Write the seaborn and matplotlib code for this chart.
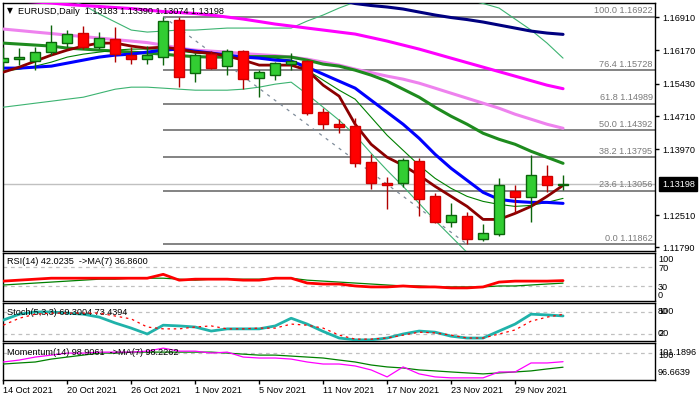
import matplotlib
matplotlib.use("Agg")
import matplotlib.pyplot as plt
import numpy as np
import pandas as pd
import seaborn as sns

# ---------------- data ----------------
dates = ["14 Oct", "15 Oct", "18 Oct", "19 Oct", "20 Oct", "21 Oct", "22 Oct", "25 Oct", "26 Oct",
         "27 Oct", "28 Oct", "29 Oct", "1 Nov", "2 Nov", "3 Nov", "4 Nov", "5 Nov", "8 Nov", "9 Nov",
         "10 Nov", "11 Nov", "12 Nov", "15 Nov", "16 Nov", "17 Nov", "18 Nov", "19 Nov", "22 Nov",
         "23 Nov", "24 Nov", "25 Nov", "26 Nov", "29 Nov", "30 Nov", "1 Dec", "2 Dec"]

opens = [1.15908, 1.15975, 1.15931, 1.16131, 1.16331, 1.16554, 1.16242, 1.16420, 1.16064, 1.15975,
         1.16020, 1.16843, 1.15663, 1.16086, 1.15819, 1.16153, 1.15552, 1.15619, 1.15864, 1.15931,
         1.14795, 1.14528, 1.14484, 1.13682, 1.13215, 1.13215, 1.13705, 1.12926, 1.12347, 1.12480,
         1.11968, 1.12080, 1.13037, 1.12903, 1.13371, 1.13183]
highs = [1.16242, 1.16220, 1.16242, 1.16732, 1.16621, 1.16710, 1.16576, 1.16687, 1.16242, 1.16264,
         1.16922, 1.16900, 1.16109, 1.16153, 1.16198, 1.16175, 1.15730, 1.15908, 1.16109, 1.15953,
         1.14884, 1.14639, 1.14662, 1.13860, 1.13348, 1.13771, 1.13771, 1.12992, 1.12770, 1.12569,
         1.12302, 1.13326, 1.13170, 1.13838, 1.13616, 1.13390]
lows = [1.15730, 1.15842, 1.15730, 1.16064, 1.16242, 1.16198, 1.16198, 1.15908, 1.15864, 1.15864,
        1.15842, 1.15352, 1.15463, 1.15752, 1.15619, 1.15307, 1.15129, 1.15508, 1.15730, 1.14729,
        1.14417, 1.14328, 1.13571, 1.13081, 1.12636, 1.13126, 1.12480, 1.12324, 1.12235, 1.11862,
        1.11924, 1.12035, 1.12547, 1.12347, 1.13015, 1.13074]
closes = [1.15997, 1.16020, 1.16131, 1.16354, 1.16532, 1.16242, 1.16443, 1.16086, 1.15975, 1.16064,
          1.16821, 1.15574, 1.16064, 1.15775, 1.16153, 1.15530, 1.15686, 1.15886, 1.15942, 1.14773,
          1.14528, 1.14461, 1.13660, 1.13215, 1.13170, 1.13727, 1.12859, 1.12347, 1.12503, 1.11968,
          1.12102, 1.13170, 1.12903, 1.13393, 1.13170, 1.13198]

ma_fast = [1.15686, 1.15797, 1.15931, 1.16064, 1.16175, 1.16265, 1.16331, 1.16331, 1.16265, 1.16220,
           1.16242, 1.16198, 1.16131, 1.16109, 1.16042, 1.15953, 1.15842, 1.15842, 1.15842, 1.15730,
           1.15396, 1.15152, 1.14528, 1.14083, 1.13794, 1.13616, 1.13393, 1.13148, 1.12926, 1.12703,
           1.12414, 1.12414, 1.12547, 1.12703, 1.12926, 1.13170]
ma_blue = [1.15775, 1.15775, 1.15797, 1.15819, 1.15886, 1.15953, 1.16020, 1.16064, 1.16086, 1.16131,
           1.16175, 1.16198, 1.16153, 1.16109, 1.16064, 1.16020, 1.15997, 1.15953, 1.15931, 1.15797,
           1.15641, 1.15485, 1.15330, 1.15062, 1.14795, 1.14528, 1.14217, 1.13860, 1.13549, 1.13282,
           1.13015, 1.12859, 1.12814, 1.12792, 1.12792, 1.12770]
ma_green = [1.16331, 1.16309, 1.16287, 1.16265, 1.16220, 1.16198, 1.16175, 1.16153, 1.16131, 1.16109,
            1.16086, 1.16053, 1.16031, 1.16020, 1.16020, 1.16031, 1.16031, 1.16031, 1.16020, 1.15953,
            1.15864, 1.15819, 1.15730, 1.15619, 1.15485, 1.15307, 1.15129, 1.14907, 1.14706, 1.14528,
            1.14328, 1.14194, 1.14083, 1.13927, 1.13794, 1.13660]
ma_thin = [1.15708, 1.15753, 1.15819, 1.15908, 1.16020, 1.16086, 1.16131, 1.16175, 1.16198, 1.16198,
           1.16198, 1.16153, 1.16109, 1.16086, 1.16064, 1.16042, 1.16020, 1.15997, 1.15953, 1.15730,
           1.15508, 1.15285, 1.15085, 1.14684, 1.14283, 1.13949, 1.13616, 1.13326, 1.13104, 1.12926,
           1.12814, 1.12747, 1.12703, 1.12725, 1.12792, 1.12881]
ma_violet = [1.16643, 1.16610, 1.16576, 1.16543, 1.16509, 1.16476, 1.16443, 1.16409, 1.16376, 1.16342,
             1.16287, 1.16220, 1.16175, 1.16153, 1.16131, 1.16098, 1.16075, 1.16053, 1.16020, 1.15975,
             1.15908, 1.15842, 1.15753, 1.15675, 1.15597, 1.15530, 1.15441, 1.15330, 1.15218, 1.15107,
             1.14996, 1.14884, 1.14751, 1.14640, 1.14528, 1.14439]
ma_magenta = [1.17288, 1.17266, 1.17244, 1.17222, 1.17188, 1.17166, 1.17144, 1.17121, 1.17099, 1.17066,
              1.17032, 1.17010, 1.16988, 1.16955, 1.16910, 1.16865, 1.16810, 1.16754, 1.16710, 1.16665,
              1.16621, 1.16576, 1.16532, 1.16454, 1.16376, 1.16287, 1.16198, 1.16098, 1.15997, 1.15897,
              1.15797, 1.15697, 1.15597, 1.15496, 1.15396, 1.15318]
ma_navy = [np.nan] * 20 + [1.17355, 1.17288, 1.17210, 1.17166, 1.17133, 1.17088, 1.17021, 1.16955,
                           1.16899, 1.16854, 1.16799, 1.16732, 1.16665, 1.16598, 1.16554, 1.16525]
bb_upper = [1.17734, 1.17622, 1.17511, 1.17400, 1.17288, 1.17177, 1.16977, 1.16799, 1.16621, 1.16576,
            1.16598, 1.16621, 1.16621, 1.16643, 1.16665, 1.16665, 1.16665, 1.16665, 1.16665, 1.16821,
            1.16955, 1.17110, 1.17244, 1.17355, 1.17423, 1.17467, 1.17467, 1.17423, 1.17378, 1.17288,
            1.17211, 1.17110, 1.16865, 1.16621, 1.16331, 1.15997]
bb_lower = [1.14907, 1.14951, 1.14996, 1.15040, 1.15085, 1.15129, 1.15218, 1.15307, 1.15352, 1.15352,
            1.15330, 1.15307, 1.15285, 1.15285, 1.15285, 1.15307, 1.15352, 1.15419, 1.15463, 1.15196,
            1.14907, 1.14617, 1.14283, 1.13883, 1.13504, 1.13148, 1.12770, 1.12391, 1.12035, 1.11679,
            1.11390, 1.11234, 1.11100, 1.11011, 1.10944, 1.10900]

rsi = [41, 43, 45, 47, 47, 47, 47, 47, 47, 47, 55, 43, 45, 45, 45, 43, 43, 47, 47, 37,
       35, 35, 31, 29, 29, 31, 29, 29, 27, 27, 29, 39, 41, 41, 41, 42.0235]
rsi_ma = [33, 35, 37, 39, 41, 43, 45, 45, 47, 47, 47, 45, 43, 45, 45, 45, 45, 47, 47, 43,
          41, 39, 37, 35, 33, 31, 31, 29, 29, 29, 29, 31, 31, 33, 35, 36.8600]
stoch_k = [58, 74, 80, 80, 77, 74, 66, 50, 36, 20, 44, 42, 39, 28, 34, 34, 34, 42, 63, 47,
           27, 9, 4, 4, 9, 20, 28, 25, 14, 9, 9, 28, 47, 74, 72, 69.3004]
stoch_d = [44, 63, 74, 77, 77, 77, 77, 69, 61, 39, 34, 34, 39, 42, 34, 34, 36, 36, 47, 44,
           36, 17, 6, 6, 9, 17, 25, 23, 17, 9, 9, 20, 31, 55, 66, 73.4394]
momentum = [98.87, 99.11, 99.48, 99.72, 99.97, 99.97, 100.09, 100.09, 100.09, 100.21, 100.58, 100.21,
            100.21, 99.97, 100.09, 99.48, 99.36, 99.36, 99.23, 98.87, 98.62, 98.62, 98.38, 97.89,
            97.03, 98.26, 97.40, 97.03, 96.91, 96.91, 96.91, 97.64, 97.64, 98.75, 98.75, 98.9061]
momentum_ma = [98.62, 98.75, 98.87, 99.23, 99.48, 99.72, 99.97, 99.97, 100.09, 100.09, 100.09, 100.09,
               100.09, 100.09, 99.97, 99.84, 99.72, 99.72, 99.60, 99.48, 99.36, 99.11, 98.87, 98.50,
               98.26, 98.13, 97.89, 97.77, 97.64, 97.52, 97.40, 97.52, 97.64, 97.77, 98.01, 98.2262]

fib_levels = ["100.0", "76.4", "61.8", "50.0", "38.2", "23.6", "0.0"]
fib_prices = [1.16922, 1.15728, 1.14989, 1.14392, 1.13795, 1.13056, 1.11862]
price_ticks = [1.16910, 1.16170, 1.15430, 1.14710, 1.13970, 1.12510, 1.11790]
date_tick_labels = ["14 Oct 2021", "20 Oct 2021", "26 Oct 2021", "1 Nov 2021", "5 Nov 2021",
                    "11 Nov 2021", "17 Nov 2021", "23 Nov 2021", "29 Nov 2021"]
rsi_levels = [70, 30]
stoch_levels = [80, 20]
momentum_levels = [100]
momentum_range = (96.6639, 101.1896)

# ---------------- style ----------------
sns.set_theme(style="white")
plt.rcParams["font.family"] = ["Liberation Sans", "DejaVu Sans"]
plt.rcParams["axes.edgecolor"] = "black"
FS = 6.6

idx = np.arange(len(dates))
df = pd.DataFrame({"idx": idx, "open": opens, "high": highs, "low": lows, "close": closes,
                   "ma_fast": ma_fast, "ma_blue": ma_blue, "ma_green": ma_green, "ma_thin": ma_thin,
                   "ma_violet": ma_violet, "ma_magenta": ma_magenta, "ma_navy": ma_navy,
                   "bb_upper": bb_upper, "bb_lower": bb_lower, "rsi": rsi, "rsi_ma": rsi_ma,
                   "stoch_k": stoch_k, "stoch_d": stoch_d, "mom": momentum, "mom_ma": momentum_ma})

W, H = 700, 400
fig = plt.figure(figsize=(7, 4), dpi=100, facecolor="white")


def box(x0, y0, x1, y1):
    return [x0 / W, 1 - y1 / H, (x1 - x0) / W, (y1 - y0) / H]


ax = fig.add_axes(box(2.5, 3, 655, 250.5))
ax_rsi = fig.add_axes(box(2.5, 252.5, 655, 301))
ax_st = fig.add_axes(box(2.5, 303, 655, 341))
ax_mo = fig.add_axes(box(2.5, 343, 655, 380))
XL = (-0.05, 40.75)

for a in (ax, ax_rsi, ax_st, ax_mo):
    a.set_facecolor("white")
    a.set_xlim(*XL)
    for s in a.spines.values():
        s.set_color("black")
        s.set_linewidth(1)
        s.set_visible(True)
    a.set_xlabel("")
    a.set_ylabel("")


def line(a, col, color, lw, z=3, ls="-"):
    d = df[["idx", col]].dropna()
    sns.lineplot(data=d, x="idx", y=col, ax=a, color=color, linewidth=lw, zorder=z,
                 estimator=None, sort=False, legend=False, linestyle=ls)
    a.set_xlabel("")
    a.set_ylabel("")


# ---- main price panel ----
ax.set_ylim(1.11723, 1.17222)
ax.axhline(closes[-1], color="#C0C0C0", lw=1, zorder=1)

line(ax, "bb_upper", "#3CB371", 0.8)
line(ax, "bb_lower", "#3CB371", 0.8)
line(ax, "ma_navy", "#000080", 2.2)
line(ax, "ma_magenta", "#FF00FF", 2.2)
line(ax, "ma_violet", "#EE82EE", 2.2)
line(ax, "ma_green", "#1E8B1E", 2.2)
line(ax, "ma_thin", "#008000", 0.8)
line(ax, "ma_blue", "#0000FF", 2.2)
line(ax, "ma_fast", "#8B0000", 2.0)

# fibonacci retracement
fib_start = int(np.argmax(highs))
fib_end = int(np.argmin(lows))
ax.hlines(fib_prices, fib_start, XL[1], colors="#6E6E6E", lw=1.2, zorder=2)
for lv, p in zip(fib_levels, fib_prices):
    ax.annotate(f"{lv} {p:.5f}", xy=(1, p), xycoords=("axes fraction", "data"),
                xytext=(-1.8, 0.8), textcoords="offset points", ha="right", va="bottom",
                fontsize=FS, color="#7A7A7A", zorder=8)
ax.plot([fib_start, fib_end], [highs[fib_start], lows[fib_end]], color="#7F8C9A",
        lw=0.9, ls=(0, (2.5, 4)), zorder=2)

# candles
o = np.array(opens); c = np.array(closes); h = np.array(highs); l = np.array(lows)
up = c >= o
wick_col = np.where(up, "#0B640B", "#B00000")
face_col = np.where(up, "#32CD32", "#FF0000")
edge_col = np.where(up, "#0B640B", "#D00000")
ax.vlines(idx, l, h, colors=wick_col, lw=1, zorder=5)
ax.bar(idx, np.maximum(np.abs(c - o), 0.00003), bottom=np.minimum(o, c), width=0.62,
       color=face_col, edgecolor=edge_col, linewidth=1, zorder=6)

ax.set_xticks([])
ax.yaxis.tick_right()
ax.set_yticks(price_ticks)
ax.set_yticklabels([f"{t:.5f}" for t in price_ticks])
ax.tick_params(axis="y", direction="out", length=3, width=1, pad=2, labelsize=FS,
               colors="black", right=True, left=False)
ax.annotate(f"{closes[-1]:.5f}", xy=(1, closes[-1]), xycoords=("axes fraction", "data"),
            xytext=(5, 0), textcoords="offset points", ha="left", va="center",
            fontsize=FS, color="white", annotation_clip=False, zorder=10,
            bbox=dict(boxstyle="square,pad=0.28", fc="black", ec="black"))

fig.text(7 / W, 1 - 11 / H, "\u25BC", fontsize=5.5, color="black", va="center",
         family=["DejaVu Sans"])
fig.text(18 / W, 1 - 11 / H,
         f"EURUSD,Daily  {opens[-1]:.5f} {highs[-1]:.5f} {lows[-1]:.5f} {closes[-1]:.5f}",
         fontsize=FS, color="black", va="center")


def side_label(a, v, s):
    a.annotate(s, xy=(1, v), xycoords=("axes fraction", "data"), xytext=(2.2, 0),
               textcoords="offset points", ha="left", va="center", fontsize=FS,
               color="black", annotation_clip=False)


# ---- RSI ----
ax_rsi.set_ylim(0, 100)
for lv in rsi_levels:
    ax_rsi.axhline(lv, color="#C0C0C0", lw=0.9, ls=(0, (3, 3)), zorder=1)
line(ax_rsi, "rsi_ma", "#008000", 0.9)
line(ax_rsi, "rsi", "#FF0000", 2.0)
ax_rsi.set_xticks([]); ax_rsi.set_yticks([])
ax_rsi.text(0.007, 0.82, f"RSI(14) {rsi[-1]:.4f}  ->MA(7) {rsi_ma[-1]:.4f}",
            transform=ax_rsi.transAxes, fontsize=FS, va="center", ha="left", color="black")
side_label(ax_rsi, 86, "100")
side_label(ax_rsi, 67, "70")
side_label(ax_rsi, 27, "30")
side_label(ax_rsi, 12, "0")

# ---- Stochastic ----
ax_st.set_ylim(0.9, 104.5)
for lv in stoch_levels:
    ax_st.axhline(lv, color="#C0C0C0", lw=0.9, ls=(0, (3, 3)), zorder=1)
line(ax_st, "stoch_k", "#20B2AA", 2.0)
line(ax_st, "stoch_d", "#FF0000", 0.9, ls=(0, (2, 3)), z=4)
ax_st.set_xticks([]); ax_st.set_yticks([])
ax_st.text(0.007, 0.76, f"Stoch(5,3,3) {stoch_k[-1]:.4f} {stoch_d[-1]:.4f}",
           transform=ax_st.transAxes, fontsize=FS, va="center", ha="left", color="black")
side_label(ax_st, 82, "100")
side_label(ax_st, 82, "80")
side_label(ax_st, 20, "20")
side_label(ax_st, 20, "0")

# ---- Momentum ----
ax_mo.set_ylim(96.647, 101.215)
for lv in momentum_levels:
    ax_mo.axhline(lv, color="#C0C0C0", lw=0.9, ls=(0, (3, 3)), zorder=1)
line(ax_mo, "mom_ma", "#008000", 0.9)
line(ax_mo, "mom", "#FF00FF", 0.9)
ax_mo.set_yticks([])
ax_mo.text(0.007, 0.74, f"Momentum(14) {momentum[-1]:.4f}  ->MA(7) {momentum_ma[-1]:.4f}",
           transform=ax_mo.transAxes, fontsize=FS, va="center", ha="left", color="black")
side_label(ax_mo, 100.10, f"{momentum_range[1]:.4f}")
side_label(ax_mo, 99.62, "100")
side_label(ax_mo, 97.63, f"{momentum_range[0]:.4f}")

tick_idx = [dates.index(t.rsplit(" ", 1)[0]) for t in date_tick_labels]
ax_mo.set_xticks(tick_idx)
ax_mo.set_xticklabels(date_tick_labels)
for t in ax_mo.get_xticklabels():
    t.set_ha("left")
ax_mo.tick_params(axis="x", direction="out", length=3, width=1, pad=1.5, labelsize=FS,
                  colors="black", bottom=True)

fig.savefig("out.png", dpi=100, facecolor="white")
